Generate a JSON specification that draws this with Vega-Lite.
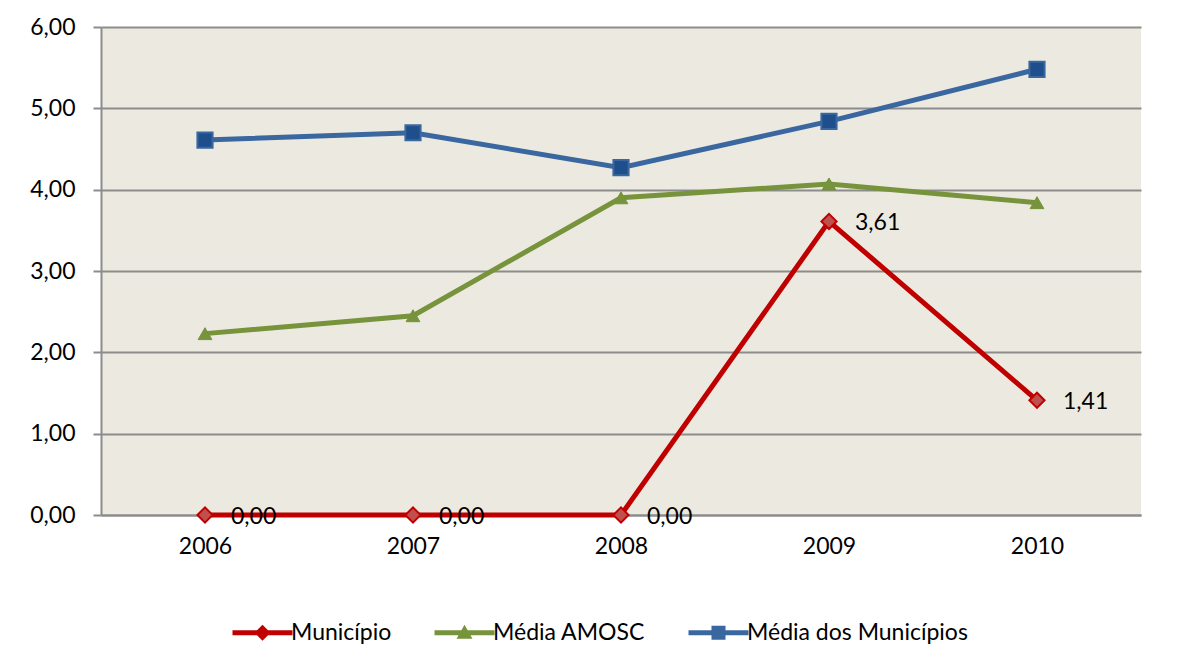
{
  "$schema": "https://vega.github.io/schema/vega-lite/v6.json",
  "width": 1040,
  "height": 488,
  "autosize": {"type": "none"},
  "padding": {"left": 101, "top": 27, "right": 48, "bottom": 149},
  "background": "white",
  "config": {
    "locale": {"number": {"decimal": ",", "thousands": ".", "grouping": [3], "currency": ["R$", ""]}},
    "view": {"fill": "#ECEAE0", "stroke": null},
    "font": "Lato",
    "axis": {"labelFont": "Lato", "labelFontSize": 23, "labelColor": "#000000", "title": null}
  },
  "data": {
    "values": [
      {"ano": "2006", "serie": "Município", "valor": 0.00},
      {"ano": "2007", "serie": "Município", "valor": 0.00},
      {"ano": "2008", "serie": "Município", "valor": 0.00},
      {"ano": "2009", "serie": "Município", "valor": 3.61},
      {"ano": "2010", "serie": "Município", "valor": 1.41},
      {"ano": "2006", "serie": "Média AMOSC", "valor": 2.23},
      {"ano": "2007", "serie": "Média AMOSC", "valor": 2.45},
      {"ano": "2008", "serie": "Média AMOSC", "valor": 3.90},
      {"ano": "2009", "serie": "Média AMOSC", "valor": 4.07},
      {"ano": "2010", "serie": "Média AMOSC", "valor": 3.84},
      {"ano": "2006", "serie": "Média dos Municípios", "valor": 4.61},
      {"ano": "2007", "serie": "Média dos Municípios", "valor": 4.70},
      {"ano": "2008", "serie": "Média dos Municípios", "valor": 4.27},
      {"ano": "2009", "serie": "Média dos Municípios", "valor": 4.84},
      {"ano": "2010", "serie": "Média dos Municípios", "valor": 5.48}
    ]
  },
  "encoding": {
    "x": {
      "field": "ano", "type": "ordinal",
      "scale": {"type": "point", "padding": 0.5},
      "axis": {"labelAngle": 0, "ticks": false, "grid": false, "domainColor": "#8C8C8C", "domainWidth": 2, "labelPadding": 20}
    },
    "y": {
      "field": "valor", "type": "quantitative",
      "scale": {"domain": [0, 6], "nice": false},
      "axis": {"values": [0, 1, 2, 3, 4, 5, 6], "format": ".2f", "grid": true, "gridColor": "#8C8C8C", "gridWidth": 2, "gridOpacity": 1,
               "domainColor": "#8C8C8C", "domainWidth": 2, "tickColor": "#8C8C8C", "tickWidth": 2, "tickSize": 8, "labelPadding": 18}
    }
  },
  "layer": [
    {
      "transform": [{"filter": "datum.serie === 'Média dos Municípios'"}],
      "mark": {"type": "line", "strokeWidth": 5, "color": "#3A67A0"},
      "encoding": {"detail": {"field": "serie"}}
    },
    {
      "transform": [{"filter": "datum.serie === 'Média AMOSC'"}],
      "mark": {"type": "line", "strokeWidth": 5, "color": "#77933C"},
      "encoding": {"detail": {"field": "serie"}}
    },
    {
      "transform": [{"filter": "datum.serie === 'Município'"}],
      "mark": {"type": "line", "strokeWidth": 5, "color": "#C00000"},
      "encoding": {"detail": {"field": "serie"}}
    },
    {
      "transform": [{"filter": "datum.serie === 'Média dos Municípios'"}],
      "mark": {"type": "point", "shape": "square", "filled": true, "fill": "#1F4E8C", "stroke": "#3A67A0", "strokeWidth": 2, "size": 230, "opacity": 1}
    },
    {
      "transform": [{"filter": "datum.serie === 'Média AMOSC'"}],
      "mark": {"type": "point", "shape": "triangle-up", "filled": true, "fill": "#77933C", "stroke": "#77933C", "strokeWidth": 1, "size": 190, "opacity": 1}
    },
    {
      "transform": [{"filter": "datum.serie === 'Município'"}],
      "mark": {"type": "point", "shape": "diamond", "filled": true, "fill": "#C0504D", "stroke": "#C00000", "strokeWidth": 2, "size": 230, "opacity": 1}
    },
    {
      "transform": [{"filter": "datum.serie === 'Município'"}],
      "mark": {"type": "text", "align": "left", "baseline": "middle", "dx": 26, "dy": 2, "fontSize": 23, "font": "Lato", "color": "#000000"},
      "encoding": {"text": {"field": "valor", "type": "quantitative", "format": ".2f"}}
    },
    {
      "mark": {"type": "point", "filled": true, "opacity": 0, "size": 400},
      "encoding": {
        "color": {
          "field": "serie", "type": "nominal",
          "scale": {"domain": ["Município", "Média AMOSC", "Média dos Municípios"], "range": ["#C00000", "#77933C", "#3A67A0"]},
          "legend": {
            "title": null, "orient": "none", "direction": "horizontal", "legendX": 150, "legendY": 594,
            "labelFont": "Lato", "labelFontSize": 23, "labelColor": "#000000", "labelOffset": 17, "labelLimit": 0,
            "columnPadding": 42, "symbolSize": 400, "symbolStrokeWidth": 0, "symbolOpacity": 1,
            "encode": {"symbols": {"update": {"opacity": {"value": 1}}}}
          }
        },
        "shape": {
          "field": "serie", "type": "nominal",
          "scale": {"domain": ["Município", "Média AMOSC", "Média dos Municípios"],
                    "range": ["M-3,-0.25H3V0.25H-3Z M0,-0.8L0.8,0L0,0.8L-0.8,0Z",
                              "M-3,-0.25H3V0.25H-3Z M0,-0.8L0.8,0.6L-0.8,0.6Z",
                              "M-3,-0.25H3V0.25H-3Z M-0.7,-0.7H0.7V0.7H-0.7Z"]}
        }
      }
    }
  ]
}
